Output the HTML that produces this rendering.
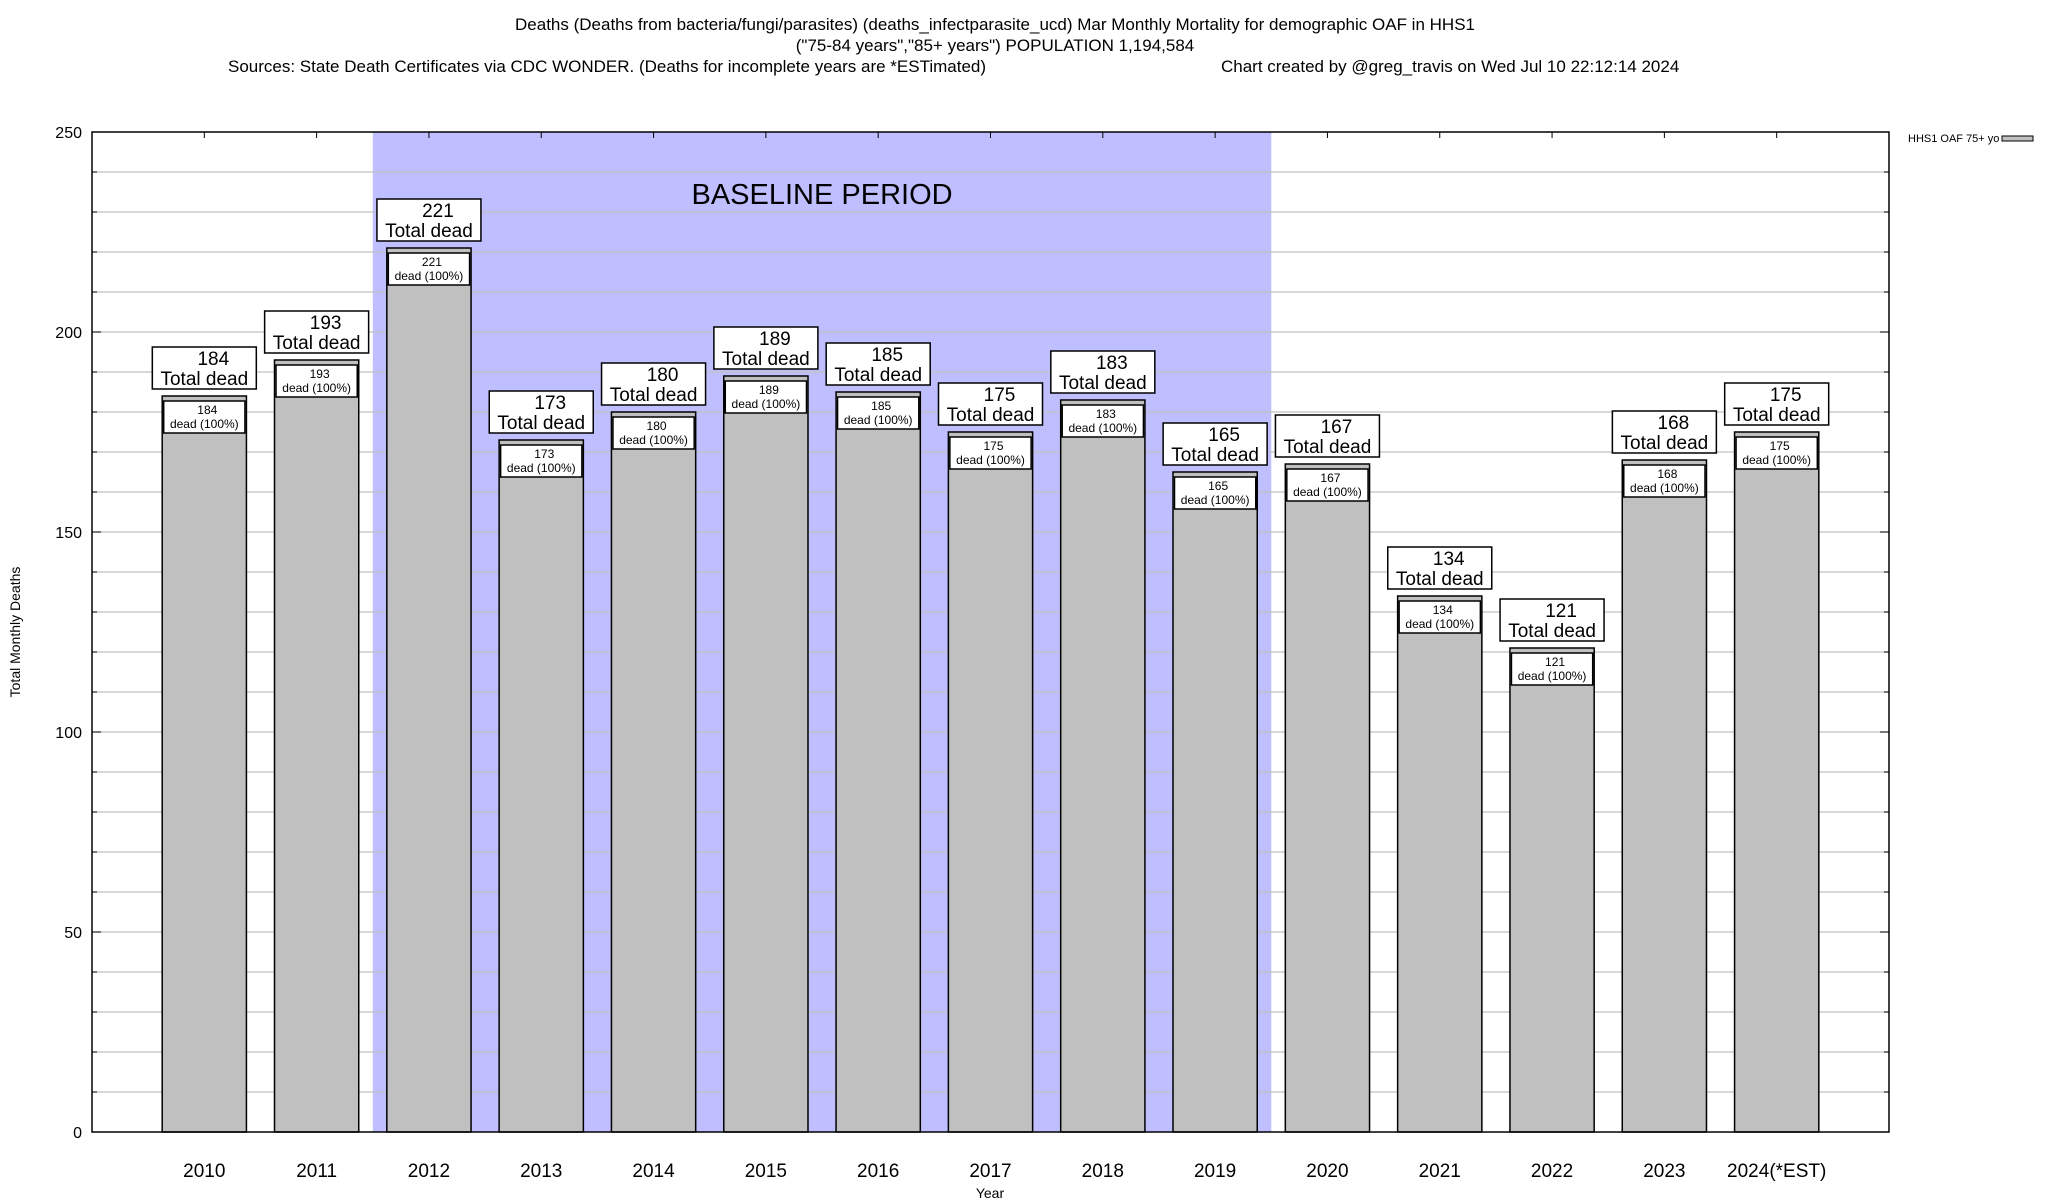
<!DOCTYPE html>
<html><head><meta charset="utf-8"><style>
body{margin:0;background:#fff;width:2048px;height:1200px;overflow:hidden}
svg{display:block;font-family:"Liberation Sans",Arial,sans-serif}
</style></head><body>
<svg id="chart" width="2048" height="1200" xmlns="http://www.w3.org/2000/svg">
<g font-size="17" text-anchor="middle">
<text x="995" y="30">Deaths (Deaths from bacteria/fungi/parasites) (deaths_infectparasite_ucd) Mar Monthly Mortality for demographic OAF in HHS1</text>
<text x="995" y="51">("75-84 years","85+ years") POPULATION 1,194,584</text>
<text x="228" y="72" text-anchor="start">Sources: State Death Certificates via CDC WONDER. (Deaths for incomplete years are *ESTimated)</text>
<text x="1221" y="72" text-anchor="start">Chart created by @greg_travis on Wed Jul 10 22:12:14 2024</text>
</g>
<g id="plot"></g>
</svg>
<script>
const categories = ["2010","2011","2012","2013","2014","2015","2016","2017","2018","2019","2020","2021","2022","2023","2024(*EST)"];
const values = [184,193,221,173,180,189,185,175,183,165,167,134,121,168,175];
const yTicks = [0,50,100,150,200,250];
const baselineStart = "2012";
const baselineEnd = "2019";

const L=92,R=1889,T=132,B=1132,yMax=250;
const unit=(R-L)/(categories.length+1);
const x=i=>L+(i+1)*unit;
const y=v=>B-(v/yMax)*(B-T);
const NS="http://www.w3.org/2000/svg";
const g=document.getElementById('plot');
function el(tag,attrs,parent){const e=document.createElementNS(NS,tag);for(const k in attrs)e.setAttribute(k,attrs[k]);(parent||g).appendChild(e);return e;}

// baseline shade
const bi=categories.indexOf(baselineStart), be=categories.indexOf(baselineEnd);
const shade=el('rect',{x:x(bi)-unit/2,y:T,width:(be-bi+1)*unit,height:B-T,fill:'#bfbfff'});


const bt=el('text',{x:(x(bi)-unit/2+x(be)+unit/2)/2,y:204,'font-size':29,'text-anchor':'middle'});
bt.textContent='BASELINE PERIOD';



// gridlines
for(let v=10;v<yMax;v+=10){
  const ln=el('line',{x1:L,x2:R,y1:y(v),y2:y(v),stroke:'#c0c0c0','stroke-width':1.2});
  
  
  const t1=el('line',{x1:L,x2:L+(v%50?5:9),y1:y(v),y2:y(v),stroke:'#000'});
  
  
  const t2=el('line',{x1:R,x2:R-(v%50?5:9),y1:y(v),y2:y(v),stroke:'#000'});
  
  
}
yTicks.forEach(v=>{
  const t=el('text',{x:82,y:y(v)+6,'font-size':16,'text-anchor':'end'});
  t.textContent=v;
  
  
});

// bars
categories.forEach((c,i)=>{
  const cx=x(i),bw=unit*0.75,v=values[i],top=y(v);
  const bar=el('rect',{x:cx-bw/2,y:top,width:bw,height:B-top,fill:'#c0c0c0',stroke:'#000','stroke-width':1.5});
  
  
  const ib=el('rect',{x:cx-bw/2+1.5,y:top+5,width:bw-3,height:32,fill:'#fff',stroke:'#000','stroke-width':1.5});
  
  
  const it1=el('text',{x:cx+3,y:top+18,'font-size':12,'text-anchor':'middle'});
  it1.textContent=v;
  
  
  const it2=el('text',{x:cx,y:top+32,'font-size':12,'text-anchor':'middle'});
  it2.textContent='dead (100%)';
  
  
  const ob=el('rect',{x:cx-52,y:top-49,width:104,height:42,fill:'#fff',stroke:'#000','stroke-width':1.5});
  
  
  const ot1=el('text',{x:cx+9,y:top-31,'font-size':19,'text-anchor':'middle'});
  ot1.textContent=v;
  
  
  const ot2=el('text',{x:cx,y:top-11,'font-size':19,'text-anchor':'middle'});
  ot2.textContent='Total dead';
  
  
  const xl=el('text',{x:cx,y:1177,'font-size':19,'text-anchor':'middle'});
  xl.textContent=c;
  
  
  const tt=el('line',{x1:cx,x2:cx,y1:T,y2:T+6,stroke:'#000'});
  
  
});

// frame
const fr=el('rect',{x:L,y:T,width:R-L,height:B-T,fill:'none',stroke:'#000','stroke-width':1.5});



const yt=el('text',{x:0,y:0,'font-size':14,'text-anchor':'middle',transform:'translate(20,632) rotate(-90)'});
yt.textContent='Total Monthly Deaths';


const xt=el('text',{x:990,y:1198,'font-size':14,'text-anchor':'middle'});
xt.textContent='Year';



// legend
const lt=el('text',{x:1908,y:142,'font-size':11});
lt.textContent='HHS1 OAF 75+ yo';


const ls=el('rect',{x:2002,y:136,width:31,height:5,fill:'#c0c0c0',stroke:'#000','stroke-width':1});


</script>
</body></html>
